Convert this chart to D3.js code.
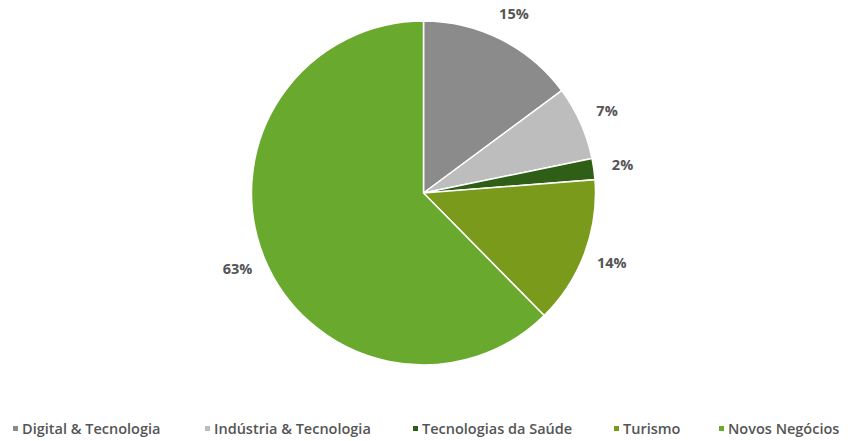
<!DOCTYPE html>
<html>
<head>
<meta charset="utf-8">
<script src="https://cdn.jsdelivr.net/npm/d3@7"></script>
<style>
  body { margin: 0; background: #fff; }
  text { font-family: "Open Sans", "Liberation Sans", sans-serif; }
</style>
</head>
<body>
<div id="chart"></div>
<script>
// data
var categories = ["Digital & Tecnologia", "Indústria & Tecnologia", "Tecnologias da Saúde", "Turismo", "Novos Negócios"];
var shares = [15, 7, 2, 14, 63];
var colors = ["#8b8b8b", "#bdbdbd", "#2f5f16", "#7a9a1c", "#68a92e"];

var svgWidth = 848;
var svgHeight = 441;

var svg = d3.select("#chart")
    .append("svg")
    .attr("width", svgWidth)
    .attr("height", svgHeight);

var cx = 423.5, cy = 193, radius = 172;

var pieGroup = svg.append("g")
    .attr("transform", `translate(${cx}, ${cy})`);

var pie = d3.pie().sort(null).value(d => d);
var arcs = pie(shares);

var arc = d3.arc().innerRadius(0).outerRadius(radius);
var labelArc = d3.arc().innerRadius(201).outerRadius(201);

pieGroup.selectAll("path")
    .data(arcs)
    .enter()
    .append("path")
    .attr("d", arc)
    .attr("fill", (d, i) => colors[i])
    .attr("stroke", "#fff")
    .attr("stroke-width", 1.5);

// percentage labels outside the slices
pieGroup.selectAll("text.pct")
    .data(arcs)
    .enter()
    .append("text")
    .attr("class", "pct")
    .attr("transform", d => `translate(${labelArc.centroid(d)})`)
    .attr("text-anchor", "middle")
    .attr("dy", "0.35em")
    .attr("font-size", "14.5px")
    .attr("font-weight", "bold")
    .attr("fill", "#555")
    .text(d => d.data + "%");

// legend
var legendX = [13, 205, 413, 614, 719];
var legend = svg.append("g").attr("transform", "translate(0, 429)");

var items = legend.selectAll("g")
    .data(categories)
    .enter()
    .append("g")
    .attr("transform", (d, i) => `translate(${legendX[i]}, 0)`);

items.append("rect")
    .attr("x", 0)
    .attr("y", -3)
    .attr("width", 5)
    .attr("height", 5)
    .attr("fill", (d, i) => colors[i]);

items.append("text")
    .attr("x", 9)
    .attr("dy", "0.35em")
    .attr("font-size", "14.5px")
    .attr("font-weight", 600)
    .attr("fill", "#555")
    .text(d => d);
</script>
</body>
</html>
